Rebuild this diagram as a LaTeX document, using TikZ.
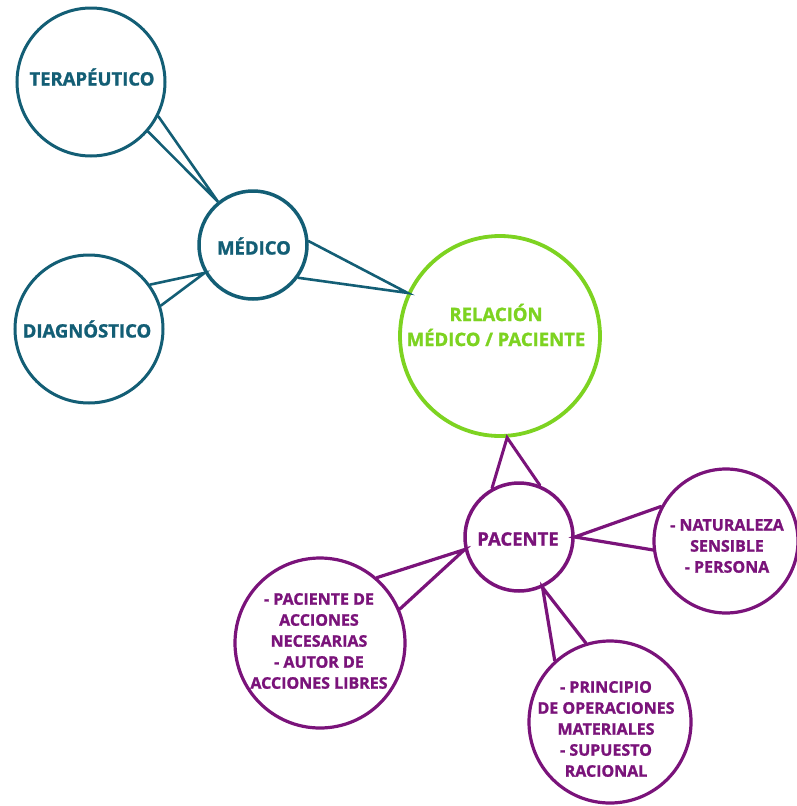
\documentclass[tikz,border=0pt]{standalone}
\usepackage{fontspec}
\setmainfont{Open Sans}[BoldFeatures={FakeBold=1.3}]
\definecolor{tealc}{HTML}{135E75}
\definecolor{limec}{HTML}{7DD321}
\definecolor{purpc}{HTML}{7A137A}
\tikzset{
  circ/.style={circle, draw, inner sep=0pt, fill=white},
  bigtxt/.style={font=\fontsize{18.5}{25}\selectfont\bfseries, align=center, inner sep=0pt},
  smalltxt/.style={font=\fontsize{16}{21}\selectfont\bfseries, align=center, inner sep=0pt},
  wedge/.style={line join=miter, line cap=round},
}
\begin{document}
\begin{tikzpicture}[x=1pt,y=-1pt]
\useasboundingbox (0,0) rectangle (797,806);
% circles
\node[circ, draw=tealc, line width=3pt, minimum size=148pt] (tera) at (91,82) {};
\node[circ, draw=tealc, line width=3.5pt, minimum size=108pt] (med) at (253,245) {};
\node[circ, draw=tealc, line width=3pt, minimum size=148pt] (diag) at (89,329) {};
\node[circ, draw=limec, line width=3.8pt, minimum size=200pt] (rel) at (500,336) {};
\node[circ, draw=purpc, line width=3.5pt, minimum size=108pt] (pac) at (519,537) {};
\node[circ, draw=purpc, line width=3.2pt, minimum size=144pt] (nat) at (726,541) {};
\node[circ, draw=purpc, line width=3.2pt, minimum size=170pt] (acc) at (320,643) {};
\node[circ, draw=purpc, line width=3.2pt, minimum size=162pt] (pri) at (610,722) {};
% wedges
\draw[wedge, tealc, line width=2.6pt] (tera.-27) -- (med.129) -- (tera.-41);
\draw[wedge, tealc, line width=2.6pt] (diag.36) -- (med.-150) -- (diag.18);
\draw[wedge, tealc, line width=2.6pt] (med.4) -- (rel.155) -- (med.-36);
\draw[wedge, purpc, line width=3pt] (pac.119) -- (rel.-86) -- (pac.68);
\draw[wedge, purpc, line width=3.2pt] (nat.152) -- (pac.0) -- (nat.-173);
\draw[wedge, purpc, line width=3.2pt] (acc.49) -- (pac.-167) -- (acc.23);
\draw[wedge, purpc, line width=3.2pt] (pri.132) -- (pac.-65) -- (pri.107);
% texts
\node[bigtxt, text=tealc] (ttera) at (92,77) {TERAPÉUTICO};
\node[bigtxt, text=tealc] (tmed) at (254,246) {MÉDICO};
\node[bigtxt, text=tealc] (tdiag) at (87,329) {DIAGNÓSTICO};
\node[bigtxt, text=limec] (trel) at (496,325) {RELACIÓN\\MÉDICO / PACIENTE};
\node[bigtxt, text=purpc] (tpac) at (518,539) {PACENTE};
\node[smalltxt, text=purpc] (tnat) at (727,546) {- NATURALEZA\\SENSIBLE\\- PERSONA};
\node[smalltxt, text=purpc] (tacc) at (319,641) {- PACIENTE DE\\ACCIONES\\NECESARIAS\\- AUTOR DE\\ACCIONES LIBRES};
\node[smalltxt, text=purpc] (tpri) at (606,729) {- PRINCIPIO\\DE OPERACIONES\\MATERIALES\\- SUPUESTO\\RACIONAL};
\end{tikzpicture}
\end{document}
